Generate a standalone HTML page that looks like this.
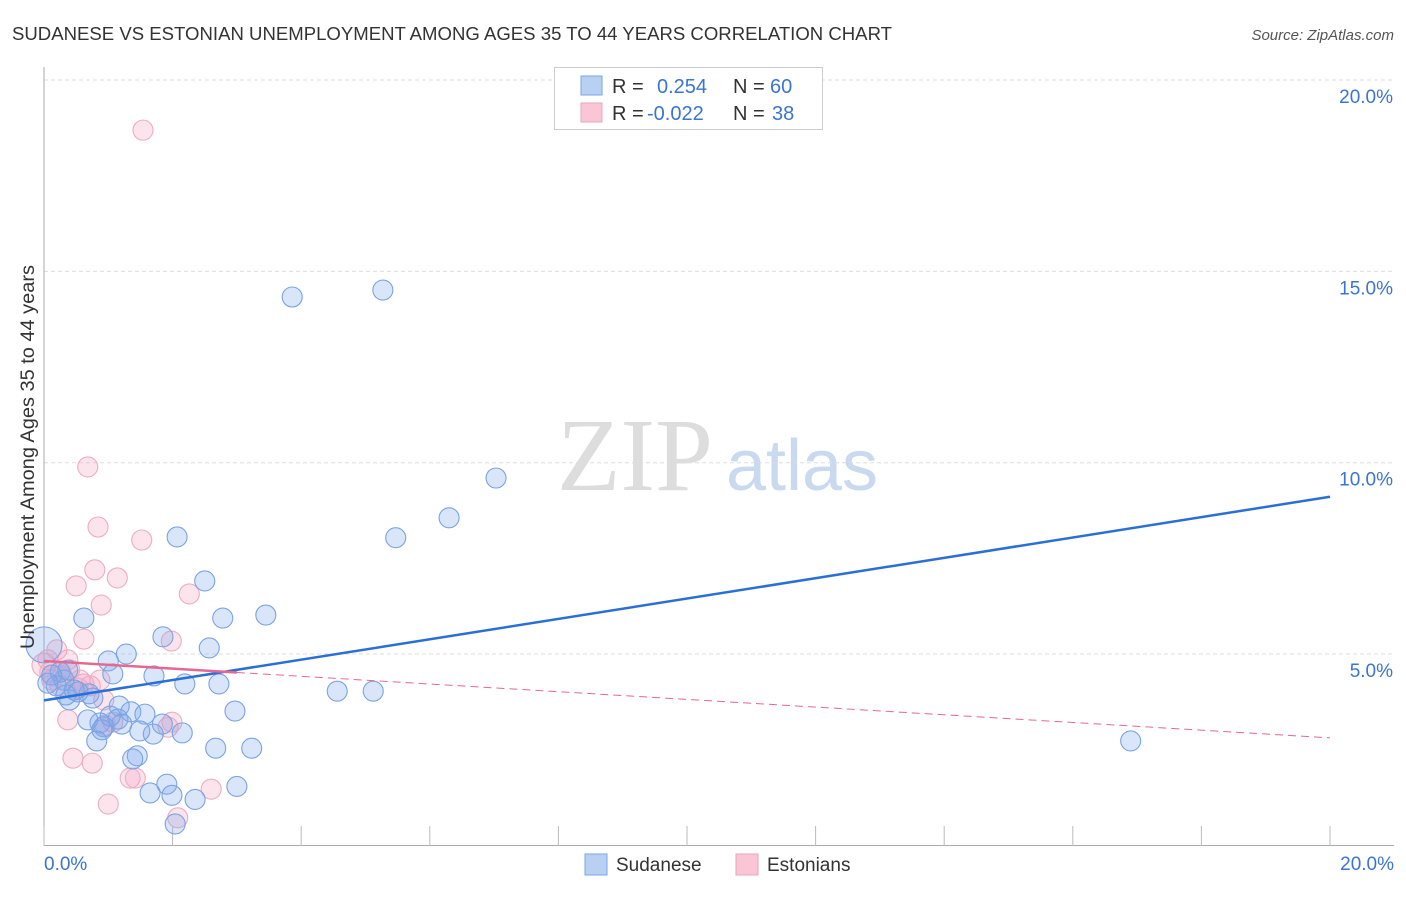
<!DOCTYPE html>
<html><head><meta charset="utf-8"><style>
body{margin:0;background:#fff;font-family:"Liberation Sans",sans-serif;}
svg text{font-family:"Liberation Sans",sans-serif;}
</style></head><body>
<svg width="1406" height="892" viewBox="0 0 1406 892" xmlns="http://www.w3.org/2000/svg">
<text x="12" y="40" font-size="18" fill="#333" textLength="880" lengthAdjust="spacingAndGlyphs">SUDANESE VS ESTONIAN UNEMPLOYMENT AMONG AGES 35 TO 44 YEARS CORRELATION CHART</text>
<text x="1394" y="40" font-size="15" fill="#555" text-anchor="end" font-style="italic">Source: ZipAtlas.com</text>
<g>
<text x="635" y="490" font-size="104" fill="#ddd" text-anchor="middle" style="font-family:'Liberation Serif',serif">ZIP</text>
<text x="802" y="490" font-size="72" fill="#c9d9f0" text-anchor="middle">atlas</text>
</g>
<g id="grid"></g>
<g id="axes"></g>
<g id="marks"></g>
<text transform="translate(34,457) rotate(-90)" font-size="19" fill="#333" text-anchor="middle" textLength="384" lengthAdjust="spacingAndGlyphs">Unemployment Among Ages 35 to 44 years</text>
<g>
<rect x="554.500" y="67.500" width="268" height="62" fill="#fff" stroke="#ccc"/>
<rect x="581" y="76" width="21" height="19" fill="#b8d1f3" stroke="#7aa6e6"/>
<rect x="581" y="103" width="21" height="19" fill="#fac6d6" stroke="#eba3bb"/>
<text x="612" y="93" font-size="20" fill="#333">R = </text><text x="657" y="93" font-size="20" fill="#3a75d0">0.254</text>
<text x="733" y="93" font-size="20" fill="#333">N = </text><text x="770" y="93" font-size="20" fill="#3a75d0">60</text>
<text x="612" y="120" font-size="20" fill="#333">R = </text><text x="647" y="120" font-size="20" fill="#3a75d0">-0.022</text>
<text x="733" y="120" font-size="20" fill="#333">N = </text><text x="772" y="120" font-size="20" fill="#3a75d0">38</text>
</g>
<g>
<rect x="585" y="854" width="22" height="21" fill="#b8d1f3" stroke="#7aa6e6"/>
<text x="616" y="871" font-size="19" fill="#333">Sudanese</text>
<rect x="736" y="854" width="22" height="21" fill="#fac6d6" stroke="#eba3bb"/>
<text x="767" y="871" font-size="19" fill="#333">Estonians</text>
</g>
</svg>
<script>
const yTicks=[5,10,15,20];
const yTickLabels=["5.0%","10.0%","15.0%","20.0%"];
const xTickValues=[0,2,4,6,8,10,12,14,16,18,20];
const xEndLabels=["0.0%","20.0%"];
const sudaneseX=[3.86,5.27,7.03,6.30,5.47,2.07,2.50,2.78,3.45,0.62,1.85,2.57,1.28,1.00,1.07,1.71,2.19,2.72,4.56,5.12,16.90,0.40,0.70,0.53,0.31,0.25,0.19,1.17,1.35,1.57,1.15,0.87,0.68,0.93,0.82,1.21,1.84,2.15,1.70,2.97,2.67,3.23,1.45,1.38,1.91,1.99,1.65,2.35,3.00,2.04,0.90,0.37,0.12,0.06,0.47,0.34,1.03,0.00,0.76,1.49];
const sudaneseY=[14.33,14.51,9.60,8.56,8.04,8.06,6.91,5.94,6.02,5.94,5.45,5.16,5.00,4.82,4.48,4.43,4.22,4.22,4.03,4.03,2.73,3.80,3.96,4.01,4.32,4.53,4.17,3.64,3.49,3.43,3.30,3.20,3.28,3.10,2.73,3.17,3.17,2.94,2.91,3.51,2.54,2.54,2.34,2.26,1.60,1.31,1.37,1.20,1.54,0.56,3.02,4.58,4.45,4.24,4.06,3.93,3.38,5.24,3.85,2.99];
const estonianX=[1.54,0.68,0.84,1.52,0.79,1.14,0.50,0.89,2.26,0.62,1.98,0.37,0.40,0.06,0.12,0.53,0.87,0.62,0.93,0.37,1.07,0.95,1.99,1.93,0.45,0.75,1.34,1.42,1.00,2.60,2.08,0.20,0.25,0.28,0.72,0.00,0.56,0.09];
const estonianY=[18.69,9.89,8.32,7.98,7.20,6.99,6.78,6.28,6.57,5.39,5.34,4.85,4.59,4.85,4.32,4.11,4.32,4.22,3.80,3.28,3.22,3.14,3.22,3.09,2.28,2.15,1.76,1.76,1.08,1.47,0.72,5.11,4.17,4.43,4.17,4.71,4.32,4.53];
const sudaneseTrend=[3.79,9.11];
const estonianTrend=[4.82,2.81];
const estonianSolidEnd=3.0;

const NS="http://www.w3.org/2000/svg";
const xs=v=>44+v*64.3;
const ys=v=>845.4-v*38.27;
function mk(tag,attrs,parent){const e=document.createElementNS(NS,tag);for(const k in attrs)e.setAttribute(k,attrs[k]);parent.appendChild(e);return e;}
const grid=document.getElementById('grid'),axes=document.getElementById('axes'),marks=document.getElementById('marks');
yTicks.forEach((t,i)=>{
 const l=mk('line',{x1:44,x2:1394,y1:ys(t),y2:ys(t),stroke:'#ddd','stroke-dasharray':'4,3'},grid);
 
 
 const tx=mk('text',{x:1393,y:ys(t)+23,'font-size':19,fill:'#3a75d0','text-anchor':'end'},axes);
 tx.textContent=yTickLabels[i];
 
 
});
const ya=mk('line',{x1:44,x2:44,y1:67,y2:846,stroke:'#aaa'},axes);


const xa=mk('line',{x1:44,x2:1394,y1:845.5,y2:845.5,stroke:'#aaa'},axes);


xTickValues.forEach(t=>{
 const l=mk('line',{x1:xs(t),x2:xs(t),y1:826,y2:846,stroke:'#bbb'},axes);
 
 
});
const xl0=mk('text',{x:44,y:870,'font-size':19,fill:'#3a75d0'},axes);xl0.textContent=xEndLabels[0];


const xl1=mk('text',{x:1394,y:870,'font-size':19,fill:'#3a75d0','text-anchor':'end'},axes);xl1.textContent=xEndLabels[1];



estonianX.forEach((x,i)=>{
 const c=mk('circle',{cx:xs(x),cy:ys(estonianY[i]),r:(x===0?12:10),fill:'rgba(245,165,195,0.3)',stroke:'#efacc2','stroke-width':1.1},marks);
 
 
});
sudaneseX.forEach((x,i)=>{
 const c=mk('circle',{cx:xs(x),cy:ys(sudaneseY[i]),r:(x===0?18:10),fill:'rgba(130,170,235,0.3)',stroke:'#78a3e3','stroke-width':1.1},marks);
 
 
});
const bt=mk('line',{x1:xs(0),y1:ys(sudaneseTrend[0]),x2:xs(20),y2:ys(sudaneseTrend[1]),stroke:'#2a6fd6','stroke-width':2.5},marks);


const py=x=>estonianTrend[0]+(estonianTrend[1]-estonianTrend[0])*x/20;
const pt=mk('line',{x1:xs(0),y1:ys(py(0)),x2:xs(estonianSolidEnd),y2:ys(py(estonianSolidEnd)),stroke:'#e8678f','stroke-width':2.5},marks);


const pd=mk('line',{x1:xs(estonianSolidEnd),y1:ys(py(estonianSolidEnd)),x2:xs(20),y2:ys(py(20)),stroke:'#e8678f','stroke-width':1,'stroke-dasharray':'8,5'},marks);


</script>
</body></html>
